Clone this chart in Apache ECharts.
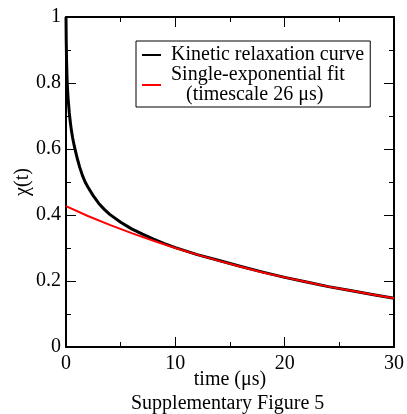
<!DOCTYPE html>
<html>
<head>
<meta charset="utf-8">
<script src="https://cdn.jsdelivr.net/npm/echarts@6/dist/echarts.min.js"></script>
<style>
html,body{margin:0;padding:0;background:#fff;}
#chart{width:407px;height:414px;}
</style>
</head>
<body>
<div id="chart"></div>
<script>
// Kinetic relaxation curve (black)
var kineticT = [0, 0.02, 0.05, 0.1, 0.15, 0.2, 0.3, 0.4, 0.5, 0.6, 0.75, 0.9, 1.0, 1.25, 1.5, 1.75, 2.0, 2.5, 3.0, 3.5, 4.0, 5.0, 6.0, 7.0, 8.0, 9.0, 10, 12, 14, 16, 18, 20, 22, 24, 26, 28, 30];
var kineticV = [1.0, 0.93, 0.87, 0.81, 0.775, 0.75, 0.71, 0.68, 0.655, 0.635, 0.61, 0.589, 0.575, 0.545, 0.52, 0.50, 0.485, 0.458, 0.435, 0.417, 0.402, 0.378, 0.358, 0.342, 0.327, 0.313, 0.301, 0.280, 0.262, 0.244, 0.227, 0.211, 0.197, 0.183, 0.171, 0.159, 0.148];
// Single-exponential fit (red)
var fitT = [0, 2, 4, 6, 8, 10, 12, 14, 16, 18, 20, 22, 24, 26, 28, 30];
var fitV = [0.427, 0.397, 0.370, 0.345, 0.322, 0.300, 0.280, 0.261, 0.243, 0.226, 0.211, 0.197, 0.183, 0.171, 0.159, 0.148];
// Axis ranges / tick labels
var xTicks = [0, 10, 20, 30];
var yTicks = [0, 0.2, 0.4, 0.6, 0.8, 1];
var seriesNames = ['Kinetic relaxation curve', 'Single-exponential fit\n   (timescale 26 \u03bcs)'];

function pairs(t, v) { return t.map(function (x, i) { return [x, v[i]]; }); }

var FONT = '"Liberation Serif","DejaVu Serif",serif';
var chart = echarts.init(document.getElementById('chart'), null, {renderer: 'canvas'});

function axisCommon(show) {
  return {
    axisLine: {show: true, onZero: false, lineStyle: {color: '#000', width: 2}},
    axisTick: {show: true, inside: true, length: 10, lineStyle: {color: '#000', width: 1}},
    minorTick: {show: true, splitNumber: 2, length: 5, lineStyle: {color: '#000', width: 1}},
    splitLine: {show: false},
    axisLabel: {show: show, color: '#000', fontFamily: FONT, fontSize: 20}
  };
}

var xMin = xTicks[0], xMax = xTicks[xTicks.length - 1], xInt = xTicks[1] - xTicks[0];
var yMin = yTicks[0], yMax = yTicks[yTicks.length - 1], yInt = yTicks[1] - yTicks[0];

var xBottom = Object.assign(axisCommon(true), {
  type: 'value', position: 'bottom', min: xMin, max: xMax, interval: xInt,
  name: 'time (\u03bcs)', nameLocation: 'middle', nameGap: 23, nameMoveOverlap: false,
  nameTextStyle: {color: '#000', fontFamily: FONT, fontSize: 20}
});
xBottom.axisLabel.margin = 7;
var xTop = Object.assign(axisCommon(false), {
  type: 'value', position: 'top', min: xMin, max: xMax, interval: xInt
});
var yLeft = Object.assign(axisCommon(true), {
  type: 'value', position: 'left', min: yMin, max: yMax, interval: yInt,
  name: '\u03c7(t)', nameLocation: 'middle', nameGap: 33, nameMoveOverlap: false,
  nameTextStyle: {color: '#000', fontFamily: FONT, fontSize: 20}
});
yLeft.axisLabel.margin = 5;
var yRight = Object.assign(axisCommon(false), {
  type: 'value', position: 'right', min: yMin, max: yMax, interval: yInt
});

chart.setOption({
  animation: false,
  backgroundColor: '#fff',
  title: {
    text: 'Supplementary Figure 5', left: 131, top: 394, padding: 0,
    textStyle: {color: '#000', fontFamily: FONT, fontSize: 20, fontWeight: 'normal'}
  },
  grid: {left: 66, right: 11, top: 17, bottom: 67, containLabel: false},
  xAxis: [xBottom, xTop],
  yAxis: [yLeft, yRight],
  legend: {
    left: 136, top: 41, orient: 'vertical',
    backgroundColor: '#fff', borderColor: '#000', borderWidth: 1,
    padding: [4, 6, 2, 6], itemGap: 0,
    icon: 'rect', itemWidth: 19, itemHeight: 2,
    textStyle: {color: '#000', fontFamily: FONT, fontSize: 20, lineHeight: 20, padding: [0, 0, 0, 5]},
    data: [
      {name: seriesNames[0], itemStyle: {color: '#000'}},
      {name: seriesNames[1], itemStyle: {color: '#ff0000'}}
    ]
  },
  series: [
    {
      name: seriesNames[0], type: 'line', xAxisIndex: 0, yAxisIndex: 0,
      data: pairs(kineticT, kineticV), showSymbol: false, symbol: 'none',
      smooth: false,
      lineStyle: {color: '#000', width: 3, join: 'round'}, itemStyle: {color: '#000'}, z: 2
    },
    {
      name: seriesNames[1], type: 'line', xAxisIndex: 0, yAxisIndex: 0,
      data: pairs(fitT, fitV), showSymbol: false, symbol: 'none',
      smooth: false,
      lineStyle: {color: '#ff0000', width: 2, join: 'round'}, itemStyle: {color: '#ff0000'}, z: 3
    }
  ]
});
</script>
</body>
</html>
